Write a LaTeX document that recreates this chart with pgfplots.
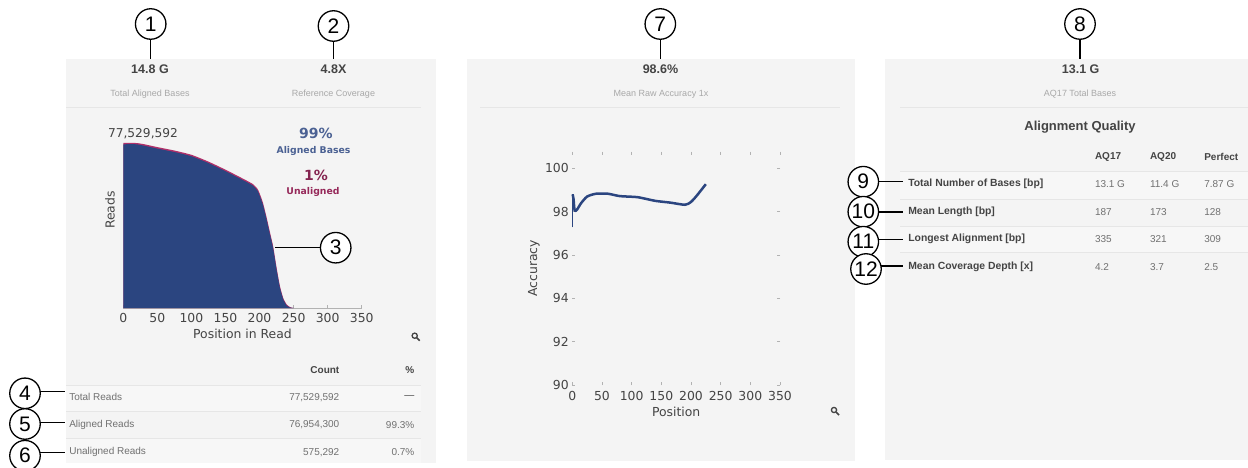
\documentclass[border=0pt]{standalone}
\usepackage{fontspec}
\usepackage{pgfplots}
\usepackage{pgfplotstable}
\pgfplotsset{compat=1.18}
\setmainfont{Liberation Sans}
\newfontfamily\djv{DejaVu Sans}
\definecolor{panel}{HTML}{F4F4F4}
\definecolor{zebra}{HTML}{F7F7F7}
\definecolor{rule}{HTML}{E6E6E6}
\definecolor{navy}{HTML}{2B4580}
\definecolor{pinkline}{HTML}{B0306A}
\definecolor{txt}{HTML}{444444}
\definecolor{soft}{HTML}{A8A8A8}
\definecolor{val}{HTML}{707070}
\pgfplotstableread{
pos total
0 77.53
10 77.6
20 77.5
30 77.0
50 75.6
75 74.0
100 72.0
125 68.8
150 65.0
175 60.9
190 58.3
197 56.0
200 54.0
205 49.5
210 43.1
215 36.0
220 29.0
225 19.0
230 10.2
235 4.5
240 1.6
245 0.4
250 0
}\totalreads
\pgfplotstableread{
pos aligned
0 76.9
10 77.0
20 76.9
30 76.3
50 74.9
75 73.3
100 71.3
125 68.1
150 64.3
175 60.2
190 57.6
197 55.2
200 53.0
205 48.5
210 42.1
215 35.0
220 28.0
225 18.0
230 9.4
235 3.9
240 1.1
245 0.2
250 0
}\alignedreads
\pgfplotstableread{
pos acc
0.5 98.8
2 98.6
4 98.05
8 98.1
15 98.4
25 98.7
40 98.83
60 98.83
80 98.72
110 98.67
140 98.5
165 98.42
190 98.32
200 98.45
210 98.75
225 99.27
}\accuracy
\pgfplotstableread{
pos acc
0 97.28
0 98.8
}\spike
\tikzset{
 t/.style={inner sep=0pt,outer sep=0pt,anchor=center},
 num/.style={draw=black,line width=1.3pt,circle,minimum size=30.5pt,inner sep=0pt,fill=white,font=\fontsize{21}{21}\selectfont},
 con/.style={draw=black,line width=1.3pt}
}
\newcommand\fs[1]{\fontsize{#1}{#1}\selectfont}
\newcommand\zoomicon[2]{%
 \draw[txt,line width=1.3pt] (#1-1,#2+1) circle (2.6pt);
 \draw[txt,line width=1.7pt] (#1+1,#2-1) -- (#1+4,#2-4);
}
\begin{document}
\begin{tikzpicture}[x=1pt,y=1pt]
\path[use as bounding box] (0,0) rectangle (1248,-468);
% panels
\fill[panel] (66,-59) rectangle (436,-463);
\fill[panel] (467,-59) rectangle (855,-461);
\fill[panel] (885,-59) rectangle (1248,-460);
\fill[zebra] (66,-385) rectangle (421,-411);
\fill[zebra] (66,-438) rectangle (421,-463);
\fill[zebra] (900,-171.7) rectangle (1248,-199);
\fill[zebra] (900,-226) rectangle (1248,-252.3);
\draw[rule] (66,-107.5) -- (421,-107.5);
\draw[rule] (480,-107.5) -- (840,-107.5);
\draw[rule] (900,-107.5) -- (1248,-107.5);
% headers
\node[t,text=txt,font=\fs{12.5}\bfseries] at (150,-69.5) {14.8 G};
\node[t,text=soft,font=\fs{9}] at (150,-94) {Total Aligned Bases};
\node[t,text=txt,font=\fs{12.5}\bfseries] at (333.5,-69.5) {4.8X};
\node[t,text=soft,font=\fs{9}] at (333.5,-94) {Reference Coverage};
\node[t,text=txt,font=\fs{12.5}\bfseries] at (660.5,-69.5) {98.6\%};
\node[t,text=soft,font=\fs{9}] at (661,-94) {Mean Raw Accuracy 1x};
\node[t,text=txt,font=\fs{12.5}\bfseries] at (1080.7,-69.5) {13.1 G};
\node[t,text=soft,font=\fs{9}] at (1080,-94) {AQ17 Total Bases};
% chart 1
\begin{axis}[at={(123.3pt,-308pt)},anchor=south west,scale only axis,width=238.4pt,height=165pt,
 xmin=0,xmax=350,ymin=0,ymax=77.53,clip=false,
 axis x line*=bottom,axis y line*=left,y axis line style={draw=none},
 x axis line style={draw=gray!60,-},
 xtick={0,50,...,350},ytick=\empty,
 tick align=inside,major tick length=3pt,tick style={gray!60,line width=.5pt},
 /pgf/number format/assume math mode=true,
 ticklabel style={text=txt,font=\djv\fs{12.4}},
 xticklabel style={yshift=-2pt},
 xlabel={Position in Read},ylabel={Reads},
 label style={text=txt,font=\djv\fs{12.4}},
 xlabel style={at={(axis description cs:0.5,0)},anchor=center,yshift=-26pt},
 ylabel style={at={(axis description cs:0,0.594)},anchor=center,yshift=13.3pt}]
\addplot[fill=pinkline,draw=none,smooth,tension=0.3] table[x=pos,y=total] {\totalreads} \closedcycle;
\addplot[fill=navy,draw=none,smooth,tension=0.3] table[x=pos,y=aligned] {\alignedreads} \closedcycle;
\end{axis}
\node[t,text=txt,font=\djv\fs{12.2}] at (143,-133.5) {77,529,592};
\node[t,text=navy!85,font=\djv\bfseries\fs{14}] at (316,-133.5) {99\%};
\node[t,text=navy!85,font=\djv\bfseries\fs{9.3}] at (313.5,-151) {Aligned Bases};
\node[t,text=pinkline!75!black,font=\djv\bfseries\fs{14}] at (316,-175) {1\%};
\node[t,text=pinkline!85!black,font=\djv\bfseries\fs{9.3}] at (313,-192) {Unaligned};
\zoomicon{415.7}{-336.7}
% table 1
\foreach \yy in {385,411,438}{\draw[rule] (66,-\yy) -- (421,-\yy);}
\node[t,anchor=east,text=txt,font=\fs{10}\bfseries] at (339.3,-370) {Count};
\node[t,anchor=east,text=txt,font=\fs{10}\bfseries] at (414.3,-370) {\%};
\node[t,anchor=west,text=val,font=\fs{10}] at (69.3,-397.3) {Total Reads};
\node[t,anchor=west,text=val,font=\fs{10}] at (69.3,-425) {Aligned Reads};
\node[t,anchor=west,text=val,font=\fs{10}] at (69.3,-452.3) {Unaligned Reads};
\node[t,anchor=east,text=val,font=\fs{10}] at (339.3,-397.3) {77,529,592};
\node[t,anchor=east,text=val,font=\fs{10}] at (339.3,-425) {76,954,300};
\node[t,anchor=east,text=val,font=\fs{10}] at (339.3,-452.3) {575,292};
\node[t,anchor=east,text=txt,font=\fs{10}] at (414.3,-397.3) {---};
\node[t,anchor=east,text=val,font=\fs{10}] at (414.3,-425) {99.3\%};
\node[t,anchor=east,text=val,font=\fs{10}] at (414.3,-452.3) {0.7\%};
% chart 2
\begin{axis}[at={(572.3pt,-385pt)},anchor=south west,scale only axis,width=207.7pt,height=233.3pt,
 xmin=0,xmax=350,ymin=90,ymax=100.77,clip=false,
 axis line style={draw=none},
 xtick={0,50,...,350},ytick={90,92,...,100},
 tick align=inside,major tick length=3pt,tick style={gray!60,line width=.5pt},
 /pgf/number format/assume math mode=true,
 ticklabel style={text=txt,font=\djv\fs{12.4}},
 xticklabel style={yshift=-3pt},
 xlabel={Position},ylabel={Accuracy},
 label style={text=txt,font=\djv\fs{12.4}},
 xlabel style={at={(axis description cs:0.5,0)},anchor=center,yshift=-27pt},
 ylabel style={at={(axis description cs:0,0.5)},anchor=center,yshift=38.3pt}]
\addplot[navy,line width=1.3pt] table[x=pos,y=acc] {\spike};
\addplot[navy,line width=2.5pt,line join=round,smooth,tension=0.4] table[x=pos,y=acc] {\accuracy};
\end{axis}
\zoomicon{835}{-411}
% table 3
\node[t,text=txt,font=\fs{13}\bfseries] at (1080,-126.7) {Alignment Quality};
\foreach \yy in {171.7,199,226,252.3}{\draw[rule] (900,-\yy) -- (1248,-\yy);}
\foreach \xx/\ss in {1095/AQ17,1150/AQ20,1204.3/Perfect}{\node[t,anchor=west,text=txt,font=\fs{10}\bfseries] at (\xx,-157.3) {\ss};}
\node[t,anchor=west,text=txt,font=\fs{10.4}\bfseries] at (908.3,-184.3) {Total Number of Bases [bp]};
\node[t,anchor=west,text=txt,font=\fs{10.4}\bfseries] at (908.3,-212) {Mean Length [bp]};
\node[t,anchor=west,text=txt,font=\fs{10.4}\bfseries] at (908.3,-239.3) {Longest Alignment [bp]};
\node[t,anchor=west,text=txt,font=\fs{10.4}\bfseries] at (908.3,-266.7) {Mean Coverage Depth [x]};
\foreach \yy/\aa/\bb/\cc in {184.3/13.1 G/11.4 G/7.87 G,212/187/173/128,239.3/335/321/309,266.7/4.2/3.7/2.5}{
 \node[t,anchor=west,text=val,font=\fs{10}] at (1095,-\yy) {\aa};
 \node[t,anchor=west,text=val,font=\fs{10}] at (1150,-\yy) {\bb};
 \node[t,anchor=west,text=val,font=\fs{10}] at (1204.3,-\yy) {\cc};
}
% callouts
\draw[con] (150.7,-40) -- (150.7,-59);
\draw[con] (333.5,-42) -- (333.5,-59);
\draw[con] (660.3,-40) -- (660.3,-59);
\draw[con] (1080,-38) -- (1080,-59);
\draw[con] (275,-247.7) -- (322,-247.7);
\draw[con] (40,-391.7) -- (65,-391.7);
\draw[con] (40,-422.7) -- (65,-422.7);
\draw[con] (40,-452.7) -- (65,-452.7);
\draw[con] (878,-181.7) -- (903,-181.7);
\draw[con] (878,-212) -- (903,-212);
\draw[con] (878,-239.3) -- (903,-239.3);
\draw[con] (880,-266) -- (903,-266);
\node[num] at (150.7,-24) {1};
\node[num] at (333.5,-26) {2};
\node[num] at (335.7,-247.7) {3};
\node[num] at (25,-393.3) {4};
\node[num] at (25,-424) {5};
\node[num] at (25,-455.7) {6};
\node[num] at (660.3,-24) {7};
\node[num] at (1080,-24) {8};
\node[num] at (863.3,-181.7) {9};
\node[num] at (863.3,-211.7) {10};
\node[num] at (863.3,-241.7) {11};
\node[num] at (866,-269) {12};
\end{tikzpicture}
\end{document}
